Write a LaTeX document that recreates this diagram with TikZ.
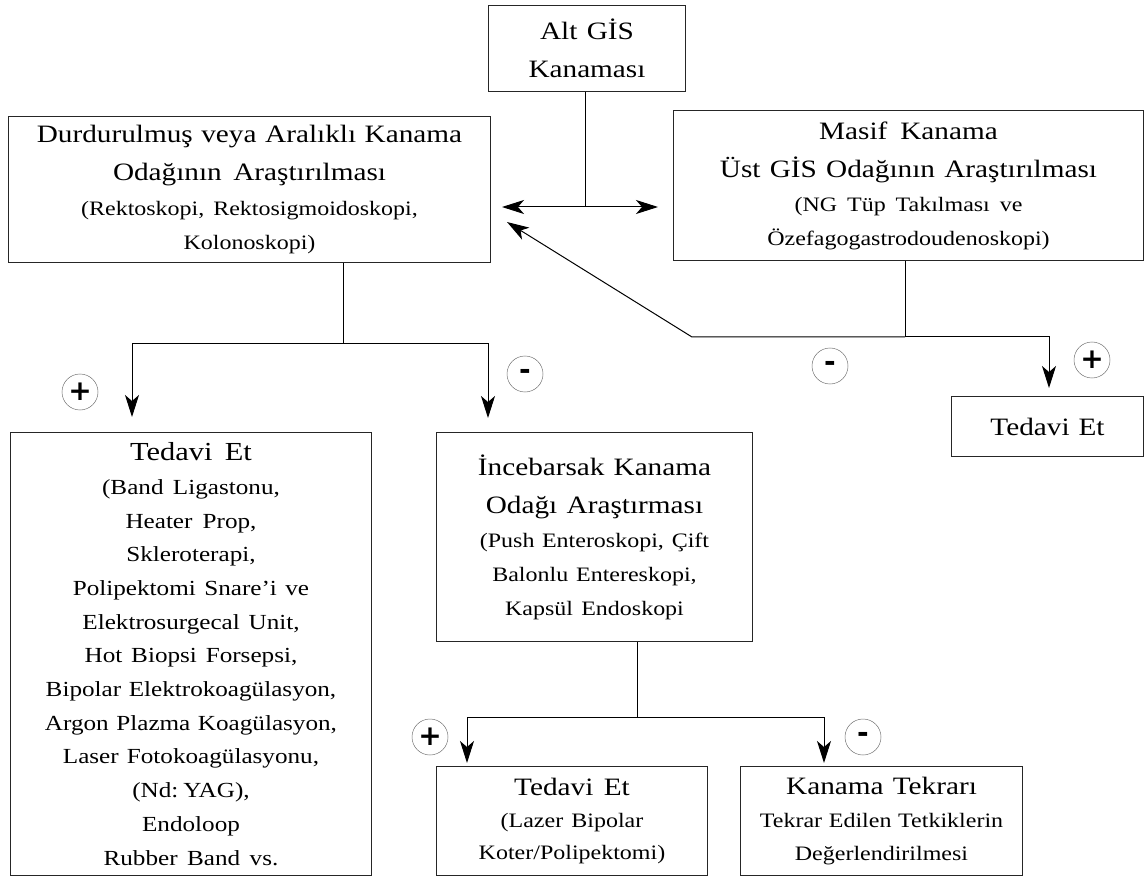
\documentclass[tikz,border=0pt]{standalone}
\usepackage{fontspec}
\setmainfont[FakeStretch=1.17]{Liberation Serif}
\newfontfamily\signfont{DejaVu Sans}
\usetikzlibrary{arrows.meta}
\newcommand{\bigt}{\fontsize{25}{38}\selectfont\spaceskip=0.3em plus 0.03em\relax}
\newcommand{\titt}{\fontsize{26}{38}\selectfont\spaceskip=0.3em plus 0.03em\relax}
\newcommand{\smt}{\fontsize{20.5}{34}\selectfont\spaceskip=0.3em plus 0.03em\relax}
\newcommand{\lst}{\fontsize{21.5}{33.7}\selectfont\spaceskip=0.3em plus 0.03em\relax}
\begin{document}
\begin{tikzpicture}[x=1pt,y=-1pt,
  box/.style={draw=black!85, line width=1pt, inner sep=0pt, align=center, anchor=north west},
  conn/.style={line width=1pt, draw=black},
  tip/.tip={Stealth[length=22pt,width=14pt,inset=6pt]},
  arr/.style={conn, -tip},
  sign/.style={circle, draw=black!55, line width=0.5pt, minimum size=36pt, inner sep=0pt,
    font=\signfont\bfseries\fontsize{28}{28}\selectfont}]
\useasboundingbox (0,0) rectangle (1146,877);
% boxes
\node[box, minimum width=197pt, minimum height=86pt, text width=197pt] (alt) at (488,5)
  {\bigt Alt GİS\\Kanaması\par};
\node[box, minimum width=482pt, minimum height=146pt, text width=482pt] (durd) at (8,116)
  {{\bigt Durdurulmuş veya Aralıklı Kanama\\Odağının Araştırılması\par}\vspace{1pt}%
   {\smt (Rektoskopi, Rektosigmoidoskopi,\\Kolonoskopi)\par}};
\node[box, minimum width=470pt, minimum height=150pt, text width=470pt] (masif) at (673,110)
  {{\bigt Masif Kanama\\Üst GİS Odağının Araştırılması\par}%
   {\smt (NG Tüp Takılması ve\\Özefagogastrodoudenoskopi)\par}};
\node[box, minimum width=361pt, minimum height=443pt, text width=361pt] (ted1) at (10,432)
  {{\titt Tedavi Et\par}%
   {\lst (Band Ligastonu,\\Heater Prop,\\Skleroterapi,\\Polipektomi Snare’i ve\\Elektrosurgecal Unit,\\Hot Biopsi Forsepsi,\\Bipolar Elektrokoagülasyon,\\Argon Plazma Koagülasyon,\\Laser Fotokoagülasyonu,\\(Nd: YAG),\\Endoloop\\Rubber Band vs.\par}};
\node[box, minimum width=316pt, minimum height=209pt, text width=316pt] (ince) at (436,432)
  {{\bigt İncebarsak Kanama\\Odağı Araştırması\par}%
   {\smt (Push Enteroskopi, Çift\\Balonlu Entereskopi,\\Kapsül Endoskopi\par}};
\node[box, minimum width=192pt, minimum height=60pt, text width=192pt] (ted2) at (951,396)
  {\bigt Tedavi Et\par};
\node[box, minimum width=271pt, minimum height=109pt, text width=271pt] (ted3) at (436,766)
  {{\bigt Tedavi Et\par}%
   {\smt\baselineskip=32pt (Lazer Bipolar\\Koter/Polipektomi)\par}};
\node[box, minimum width=282pt, minimum height=109pt, text width=282pt] (kan) at (740,766)
  {{\bigt Kanama Tekrarı\par}%
   {\smt\baselineskip=33pt Tekrar Edilen Tetkiklerin\\Değerlendirilmesi\par}};
% junctions and free ends
\coordinate (dj) at (585,207);
\coordinate (lj) at (502,207);
\coordinate (rj) at (658,207);
\coordinate (mj2) at (905,337);
\coordinate (mj) at (692,337);
\coordinate (dtip) at (507,222);
\coordinate (a5) at (1049,388);
\coordinate (dj2) at (343,344);
\coordinate (a1) at (132,417);
\coordinate (a2) at (488,418);
\coordinate (ij) at (637,717);
\coordinate (a3) at (467,763);
\coordinate (a4) at (824,763);
% connectors
\draw[conn] (alt.south -| dj) -- (dj);
\draw[conn, tip-tip] (lj) -- (rj);
\draw[conn] (masif.south -| mj2) -- (mj2);
\draw[arr] (mj2) -- (mj) -- (dtip);
\draw[arr] (mj2) -| (a5);
\draw[conn] (durd.south -| dj2) -- (dj2);
\draw[arr] (dj2) -| (a1);
\draw[arr] (dj2) -| (a2);
\draw[conn] (ince.south -| ij) -- (ij);
\draw[arr] (ij) -| (a3);
\draw[arr] (ij) -| (a4);
% signs
\node[sign] (s1) at (80,392) {+};
\node[sign] (s2) at (525,374) {-};
\node[sign] (s3) at (830,366) {-};
\node[sign] (s4) at (1092,360) {+};
\node[sign] (s5) at (430,737) {+};
\node[sign] (s6) at (863,737) {-};
\end{tikzpicture}
\end{document}
